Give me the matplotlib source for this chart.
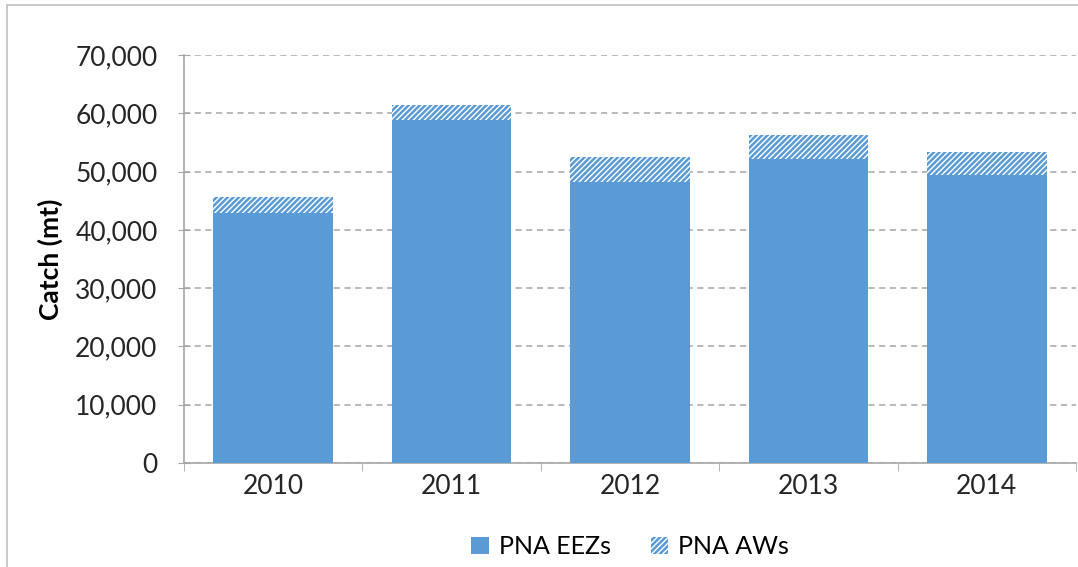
import numpy as np
import matplotlib.pyplot as plt
from matplotlib.patches import Rectangle
from matplotlib.ticker import FuncFormatter, MultipleLocator

plt.rcParams['font.family'] = ['Lato', 'DejaVu Sans']
plt.rcParams['hatch.linewidth'] = 1.0

years = ['2010', '2011', '2012', '2013', '2014']
eez = [42900, 58800, 48250, 52150, 49400]
aws = [2750, 2600, 4300, 4100, 3900]

BLUE = '#5B9BD5'
GRAY = '#A6A6A6'

fig = plt.figure(figsize=(10.78, 5.67), dpi=100)
ax = fig.add_axes([184 / 1078, 1 - 463 / 567, 892 / 1078, 408 / 567])

x = np.arange(len(years))
ax.bar(x, eez, width=0.67, color=BLUE, label='PNA EEZs', zorder=3)
ax.bar(x, aws, width=0.67, bottom=eez, facecolor=BLUE, edgecolor='white',
       hatch='//////', linewidth=0, label='PNA AWs', zorder=3)

ax.set_xlim(-0.5, len(years) - 0.5)
ax.set_ylim(0, 70000)
ax.yaxis.set_major_locator(MultipleLocator(10000))
ax.yaxis.set_major_formatter(FuncFormatter(lambda v, p: f'{int(v):,}'))
ax.grid(axis='y', color=GRAY, linestyle=(0, (4, 3)), linewidth=1.1, zorder=0)

ax.set_xticks(x)
ax.set_xticklabels(years)
ax.set_xticks(np.arange(len(years) + 1) - 0.5, minor=True)
ax.tick_params(axis='x', which='major', length=0, labelsize=19, pad=8, colors='#262626')
ax.tick_params(axis='x', which='minor', length=6, color=GRAY, direction='out')
ax.tick_params(axis='y', length=8, color=GRAY, direction='inout', labelsize=19,
               pad=15, labelcolor='#262626')

for s in ['top', 'right']:
    ax.spines[s].set_visible(False)
for s in ['left', 'bottom']:
    ax.spines[s].set_color(GRAY)
    ax.spines[s].set_linewidth(1.2)

ax.set_ylabel('Catch (mt)', fontsize=19, fontweight='bold', labelpad=9)

ax.legend(loc='center', bbox_to_anchor=(0.5, -0.205), ncol=2, frameon=False,
          fontsize=18, handlelength=0.7, handleheight=0.7, columnspacing=1.6,
          handletextpad=0.4)

# outer chart border
fig.patches.append(Rectangle((7 / 1078, -0.1), 1.2, 1 - 5 / 567 + 0.1,
                             transform=fig.transFigure, fill=False,
                             edgecolor='#BFBFBF', linewidth=1.2))

fig.savefig('out.png', dpi=100)
